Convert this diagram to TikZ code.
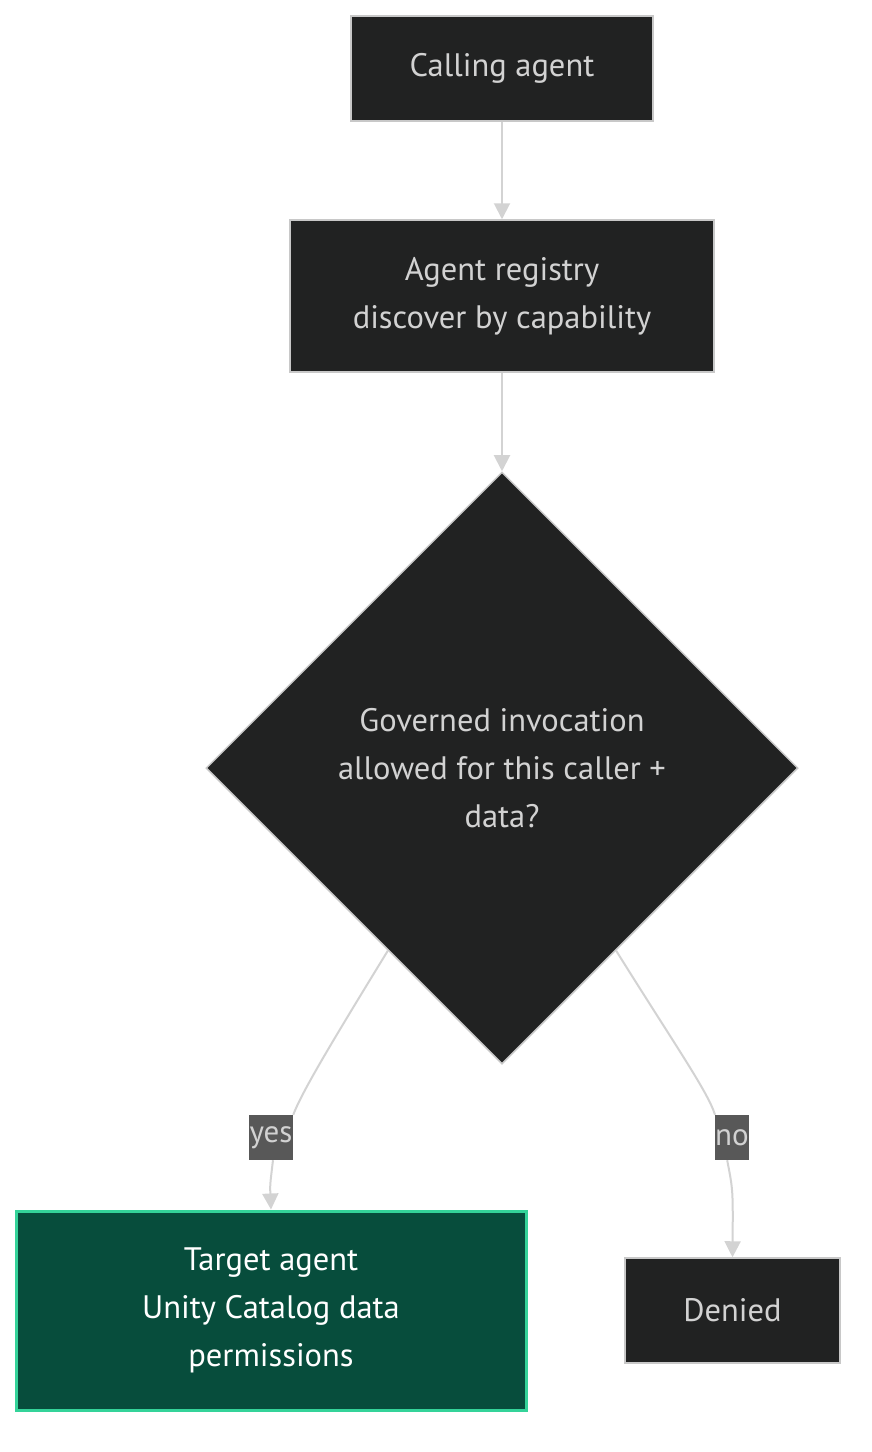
\documentclass[tikz,border=0pt]{standalone}
\usepackage{fontspec}
\setmainfont{PT Sans}
\usetikzlibrary{shapes.geometric,arrows.meta}

\definecolor{boxfill}{RGB}{33,34,34}
\definecolor{boxline}{RGB}{200,200,200}
\definecolor{boxtext}{RGB}{210,210,210}
\definecolor{okfill}{RGB}{7,77,60}
\definecolor{okline}{RGB}{52,211,153}
\definecolor{lblfill}{RGB}{88,88,88}
\definecolor{edgecol}{RGB}{211,211,211}

\tikzset{
    box/.style={draw=boxline, line width=1.5pt, fill=boxfill, text=boxtext,
        align=center, inner sep=0pt, font=\fontsize{32.5}{48}\selectfont},
    decision/.style={box, diamond, aspect=1, minimum size=592pt},
    okbox/.style={box, draw=okline, line width=3pt, fill=okfill, text=white},
    lbl/.style={fill=lblfill, text=boxtext, inner sep=0pt, minimum height=45pt,
        font=\fontsize{31}{34}\selectfont},
    edge/.style={draw=edgecol, line width=2pt, -{Triangle[length=16pt,width=16pt]}},
    link/.style={draw=edgecol, line width=2pt}
}

\begin{document}
\begin{tikzpicture}[x=1pt, y=-1pt]
        \useasboundingbox (0,0) rectangle (872,1452);

        % Boxes
        \node[box, minimum width=302pt, minimum height=105pt] (caller) at (502,68.5) {Calling agent};
        \node[box, minimum width=424pt, minimum height=152pt] (registry) at (502,296) {Agent registry\\discover by capability};
        \node[decision] (check) at (502,768) {Governed invocation\\allowed for this caller +\\data?};
        \node[okbox, minimum width=510pt, minimum height=199pt] (target) at (271,1310.5) {Target agent\\Unity Catalog data\\permissions};
        \node[box, minimum width=215pt, minimum height=105pt] (denied) at (732.5,1310.5) {Denied};

        % Edge labels
        \node[lbl, minimum width=44pt] (yes) at (271,1137.5) {yes};
        \node[lbl, minimum width=32pt] (no) at (732,1137.5) {no};

        % Straight edges
        \draw[edge] (caller) -- (registry);
        \draw[edge] (registry) -- (check);

        % Yes branch
        \draw[link] (check.238) .. controls (330,1045) and (302,1092) .. (yes.north east);
        \draw[edge] (yes.275) .. controls (270,1185) .. (target.north);

        % No branch
        \draw[link] (check.302) .. controls (675,1045) and (708,1092) .. (no.north west);
        \draw[edge] (no.258) .. controls (733,1190) .. (denied.north);
\end{tikzpicture}
\end{document}
